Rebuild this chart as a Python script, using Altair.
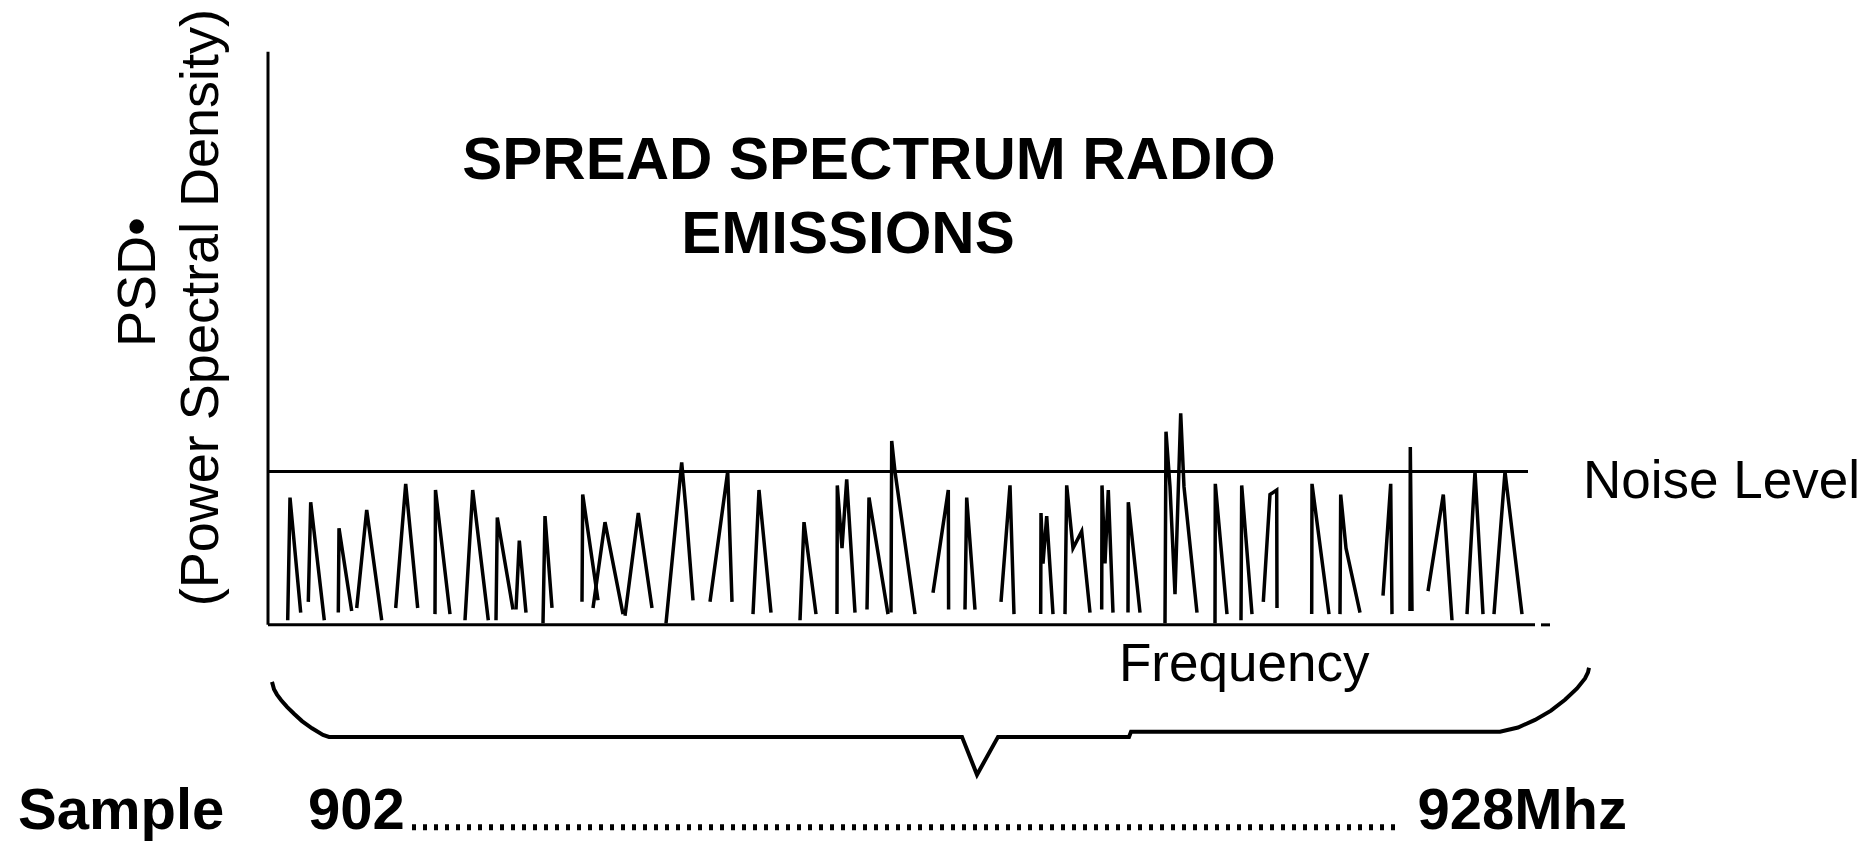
import altair as alt
import pandas as pd

# ---- spectrum spikes: each spike is a small polyline (x = position along
# the frequency axis, h = PSD with the noise level at 100) ----
TENT_X = [
    [19.7, 22.0, 32.7],
    [40.3, 42.7, 56.3],
    [70.3, 71.0, 83.7],
    [88.7, 98.7, 113.7],
    [127.7, 137.7, 149.7],
    [167.0, 167.5, 182.0],
    [197.0, 204.7, 220.3],
    [228.0, 229.3, 245.0],
    [248.0, 251.3, 258.0],
    [275.0, 277.0, 284.0],
    [314.0, 314.7, 330.0],
    [325.0, 337.0, 355.0],
    [357.0, 370.3, 384.0],
    [398.0, 413.7, 418.0, 425.0],
    [442.0, 459.7, 464.0],
    [485.0, 491.0, 503.0],
    [532.0, 536.0, 548.0],
    [569.0, 569.3, 574.0, 578.7, 587.0],
    [599.0, 601.0, 620.0],
    [623.0, 623.7, 627.0, 647.0],
    [665.0, 680.3, 680.6],
    [697.0, 698.7, 707.0],
    [733.0, 742.0, 746.0],
    [772.7, 773.0, 775.0, 778.7, 785.0],
    [797.0, 798.7, 805.0, 813.7, 822.0],
    [833.7, 834.0, 837.0, 840.3, 845.0],
    [860.0, 860.3, 872.0],
    [897.0, 898.0, 902.0, 907.0, 912.7, 916.0, 929.0],
    [947.0, 947.3, 959.0],
    [973.0, 973.7, 984.0],
    [995.3, 1002.0, 1008.7, 1009.0],
    [1043.7, 1044.0, 1061.0],
    [1072.0, 1072.7, 1078.0, 1092.0],
    [1115.0, 1122.7, 1124.0],
    [1142.0, 1142.3, 1144.0],
    [1160.0, 1175.3, 1184.0],
    [1199.0, 1207.0, 1215.0],
    [1226.0, 1237.0, 1254.0],
]
TENT_H = [
    [3, 83, 8],
    [15, 80, 3],
    [8, 63, 9],
    [11, 75, 3],
    [11, 92, 11],
    [7, 88, 7],
    [3, 88, 3],
    [3, 70, 10],
    [10, 55, 8],
    [1, 71, 11],
    [15, 85, 16],
    [11, 67, 7],
    [6, 73, 11],
    [1, 106, 75, 16],
    [15, 100, 15],
    [7, 88, 8],
    [3, 67, 7],
    [7, 91, 50, 95, 8],
    [10, 83, 7],
    [8, 120, 100, 7],
    [21, 88, 10],
    [10, 83, 10],
    [15, 91, 7],
    [7, 73, 40, 71, 7],
    [7, 91, 50, 61, 8],
    [10, 91, 40, 88, 8],
    [8, 80, 8],
    [1, 126, 90, 20, 138, 90, 8],
    [1, 92, 7],
    [3, 91, 7],
    [15, 85, 88, 11],
    [7, 92, 7],
    [7, 85, 50, 8],
    [19, 92, 7],
    [9, 116, 9],
    [22, 85, 3],
    [7, 100, 7],
    [7, 100, 7],
]

NOISE_LEVEL = 100
AXIS_TOP = 374
AXIS_END = 1267
NOISE_END = 1260

# brace under the frequency axis
BRACE_X = [4, 6, 9, 13, 19, 26, 34, 44, 55, 61, 694, 709, 730, 861, 863, 1232,
           1250, 1267, 1283, 1297, 1309, 1317, 1320, 1321]
BRACE_H = [-37.2, -42.0, -45.5, -49.0, -53.5, -58.0, -62.8, -67.5, -71.8, -73.1, -73.1,
           -97.8, -73.1, -73.1, -69.8, -69.8, -67.0, -62.0, -56.0, -48.9, -41.5, -35.0,
           -31.0, -28.0]

TITLE_LINES = ["SPREAD SPECTRUM RADIO", "EMISSIONS"]
Y_TITLE = ["PSD\u2022", "(Power Spectral Density)"]
X_TITLE = "Frequency"
NOISE_LABEL = "Noise Level"
SAMPLE_LABEL = "Sample"
FREQ_START = "902"
FREQ_END = "928Mhz"

FONT = "Liberation Sans"

# ---------------- build tables ----------------
rows = []
for t, (xs, hs) in enumerate(zip(TENT_X, TENT_H)):
    for i, (x, h) in enumerate(zip(xs, hs)):
        rows.append({"x": x, "h": h, "tent": t, "i": i})
spikes = pd.DataFrame(rows)

brace = pd.DataFrame({"x": BRACE_X, "h": BRACE_H, "i": list(range(len(BRACE_X)))})

XS = alt.Scale(domain=[-260, 1597], nice=False, zero=False)
YS = alt.Scale(domain=[-143, 402.5], nice=False, zero=False)


def X(field="x"):
    return alt.X(f"{field}:Q", scale=XS, axis=None)


def Y(field="h"):
    return alt.Y(f"{field}:Q", scale=YS, axis=None)


spike_layer = alt.Chart(spikes).mark_line(color="black", strokeWidth=3.5).encode(
    x=X(), y=Y(), detail="tent:N", order="i:Q"
)

rules = pd.DataFrame({
    "x": [0, 0, 0, 1273],
    "x2": [0, AXIS_END, NOISE_END, 1282],
    "h": [0, 0, NOISE_LEVEL, 0],
    "h2": [AXIS_TOP, 0, NOISE_LEVEL, 0],
})
rule_layer = alt.Chart(rules).mark_rule(color="black", strokeWidth=3).encode(
    x=X(), x2="x2:Q", y=Y(), y2="h2:Q"
)

brace_layer = alt.Chart(brace).mark_line(color="black", strokeWidth=4).encode(
    x=X(), y=Y(), order="i:Q"
)

dots = pd.DataFrame({"x": [144], "x2": [1129], "h": [-132.0]})
dots_layer = alt.Chart(dots).mark_rule(color="black", strokeWidth=6, strokeDash=[4, 7]).encode(
    x=X(), x2="x2:Q", y=Y()
)

title_df = pd.DataFrame({"x": [601, 580], "h": [290.9, 242.7], "t": TITLE_LINES})
title_layer = alt.Chart(title_df).mark_text(
    font=FONT, fontSize=60, fontWeight="bold", align="center", baseline="alphabetic", color="black"
).encode(x=X(), y=Y(), text="t:N")

ytitle_df = pd.DataFrame({"x": [-113, -50], "h": [223.7, 207.0], "t": Y_TITLE})
ytitle_layer = alt.Chart(ytitle_df).mark_text(
    font=FONT, fontSize=54, angle=270, align="center", baseline="alphabetic", color="black"
).encode(x=X(), y=Y(), text="t:N")

labels_df = pd.DataFrame({"x": [1315, 851], "h": [82.8, -36.5], "t": [NOISE_LABEL, X_TITLE]})
labels_layer = alt.Chart(labels_df).mark_text(
    font=FONT, fontSize=53, align="left", baseline="alphabetic", color="black"
).encode(x=X(), y=Y(), text="t:N")

bottom_left = pd.DataFrame({"x": [-250, 40], "h": [-133.5, -133.5], "t": [SAMPLE_LABEL, FREQ_START]})
bottom_left_layer = alt.Chart(bottom_left).mark_text(
    font=FONT, fontSize=58, fontWeight="bold", align="left", baseline="alphabetic", color="black"
).encode(x=X(), y=Y(), text="t:N")

bottom_right = pd.DataFrame({"x": [1359], "h": [-133.5], "t": [FREQ_END]})
bottom_right_layer = alt.Chart(bottom_right).mark_text(
    font=FONT, fontSize=58, fontWeight="bold", align="right", baseline="alphabetic", color="black"
).encode(x=X(), y=Y(), text="t:N")

chart = alt.layer(
    rule_layer, spike_layer, brace_layer, dots_layer, title_layer, ytitle_layer,
    labels_layer, bottom_left_layer, bottom_right_layer
).properties(
    width=1857, height=836, padding=0, background="white",
    autosize=alt.AutoSizeParams(type="none"),
).configure_view(stroke=None)

chart.save("out.html", embed_options={"renderer": "svg", "actions": False})
